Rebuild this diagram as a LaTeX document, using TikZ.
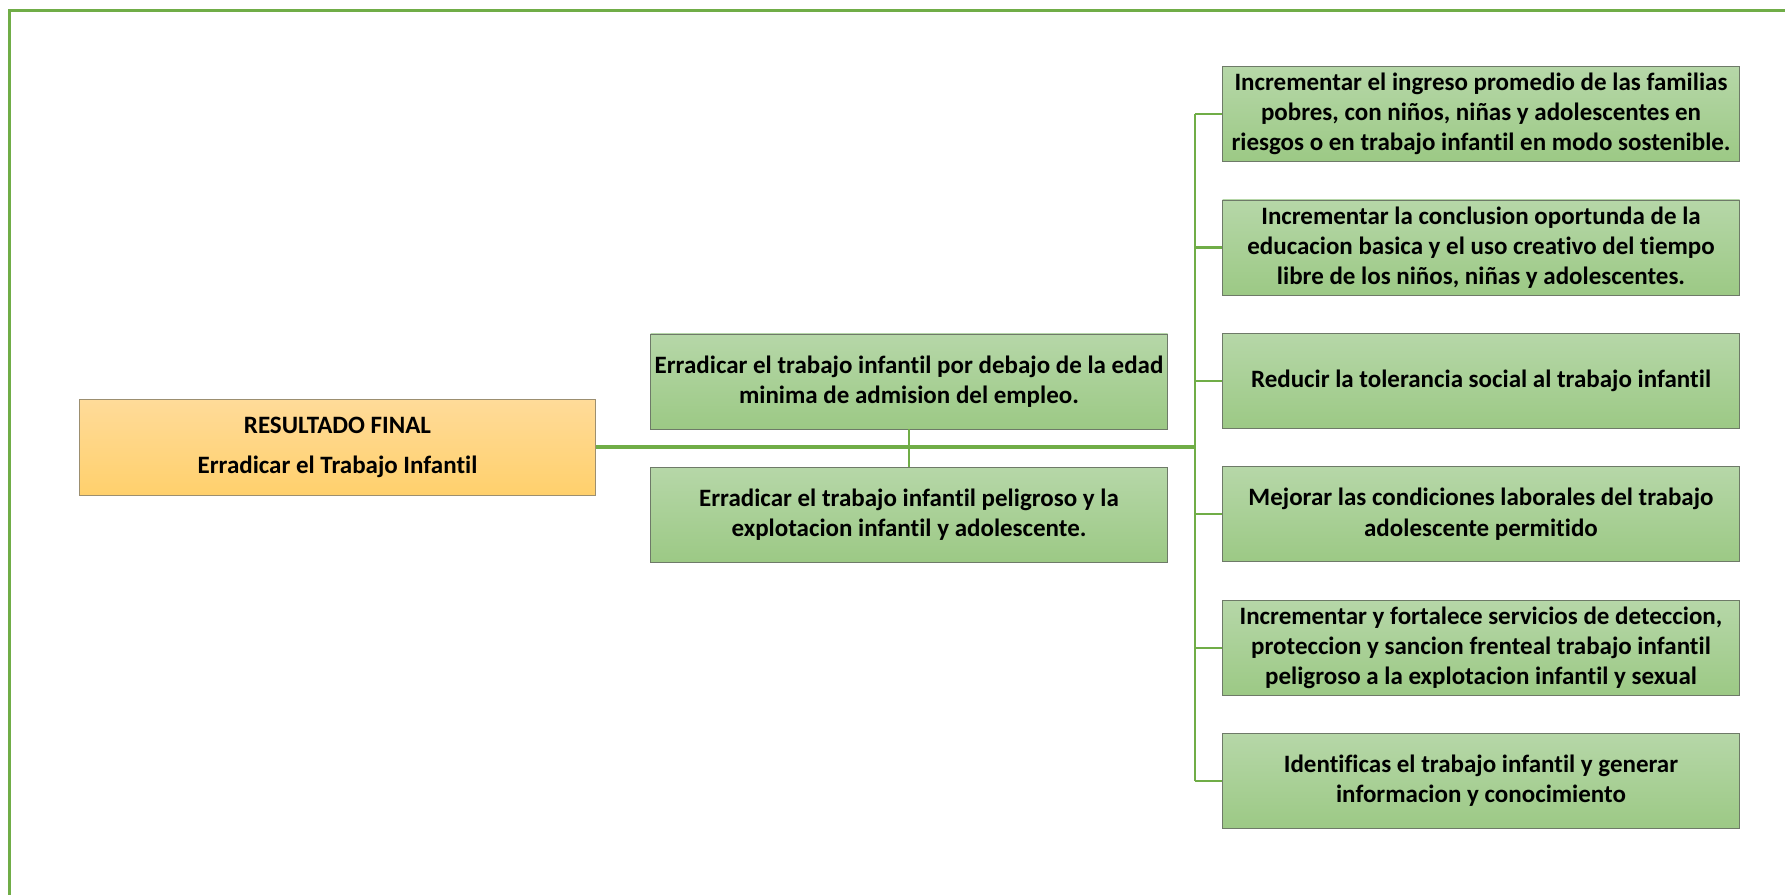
\documentclass[tikz,border=0pt]{standalone}
\usepackage{fontspec}
\setmainfont[Ligatures=NoCommon]{Carlito}
\usepackage{tikz}
\usetikzlibrary{positioning}
\definecolor{ramal}{HTML}{70AD47}
\definecolor{verdea}{HTML}{B6D7A8}
\definecolor{verdeb}{HTML}{9CC985}
\definecolor{bordeg}{HTML}{6E7A68}
\definecolor{naranjaa}{HTML}{FFDB99}
\definecolor{naranjab}{HTML}{FFD06C}
\definecolor{bordeo}{HTML}{9C8F70}

\begin{document}
\begin{tikzpicture}[
      x=0.5pt, y=-0.5pt,
      meta/.style={
        rectangle,
        draw=bordeg,
        top color=verdea,
        bottom color=verdeb,
        minimum width=258.5pt,
        minimum height=47.5pt,
        inner sep=0.5pt,
        align=center,
        font=\fontsize{12.5}{15.1}\selectfont\bfseries,
      },
      resultado/.style={
        meta,
        draw=bordeo,
        top color=naranjaa,
        bottom color=naranjab,
        minimum width=258pt,
        minimum height=48pt,
      },
      linea/.style={ramal, line width=1.1pt},
      ]
      \useasboundingbox (0,0) rectangle (1785,895);
      % marco
      \draw[ramal, line width=1.5pt] (9,895) -- (9,10) -- (1785,10);
      % cajas
      \node[resultado] (res) at (337.5,447.4) {RESULTADO FINAL\\[4.5pt]Erradicar el Trabajo Infantil};
      \node[meta] (m1) at (909,381.4) {Erradicar el trabajo infantil por debajo de la edad\\minima de admision del empleo.};
      \node[meta] (m2) at (909,514.6) {Erradicar el trabajo infantil peligroso y la\\explotacion infantil y adolescente.};
      \node[meta] (r1) at (1481,114) {Incrementar el ingreso promedio de las familias\\pobres, con niños, niñas y adolescentes en\\riesgos o en trabajo infantil en modo sostenible.};
      \node[meta] (r2) at (1481,247.4) {Incrementar la conclusion oportunda de la\\educacion basica y el uso creativo del tiempo\\libre de los niños, niñas y adolescentes.};
      \node[meta] (r3) at (1481,380.8) {Reducir la tolerancia social al trabajo infantil};
      \node[meta] (r4) at (1481,514.2) {Mejorar las condiciones laborales del trabajo\\adolescente permitido};
      \node[meta] (r5) at (1481,647.6) {Incrementar y fortalece servicios de deteccion,\\proteccion y sancion frenteal trabajo infantil\\peligroso a la explotacion infantil y sexual};
      \node[meta] (r6) at (1481,781) {Identificas el trabajo infantil y generar\\informacion y conocimiento};
      \coordinate (t) at (1195.3,447.4);
      % conectores
      \draw[ramal, line width=2pt] (res.east) -- (t);
      \draw[linea] (m1.south) -- (m2.north);
      \draw[linea] (t|-r1) -- (t|-r6);
      \foreach \i in {1,...,6} {
        \draw[linea] (t|-r\i) -- (r\i.west);
      }
    \end{tikzpicture}
\end{document}
